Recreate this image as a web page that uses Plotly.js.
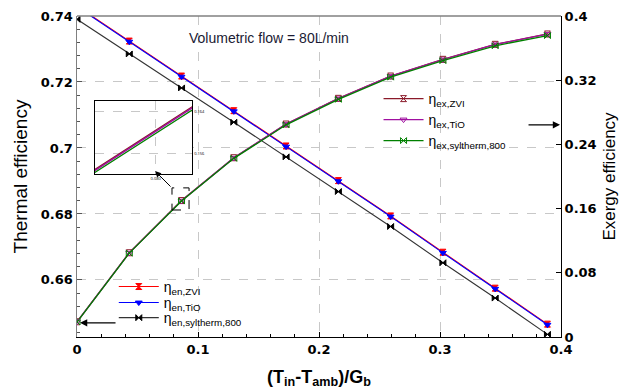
<!DOCTYPE html>
<html>
<head>
<meta charset="utf-8">
<script src="https://cdn.plot.ly/plotly-3.0.1.min.js"></script>
<style>html,body{margin:0;padding:0;background:#fff}#chart{width:619px;height:392px}</style>
</head>
<body>
<div id="chart"></div>
<script>
// ---- data ----
const xVals = [0, 0.0432, 0.0864, 0.1296, 0.1728, 0.216, 0.2592, 0.3024, 0.3456, 0.3888];

const enZVI = [0.7430, 0.7324, 0.7218, 0.7113, 0.7006, 0.6901, 0.6794, 0.6684, 0.6575, 0.6466];
const enTiO = [0.7428, 0.7322, 0.7216, 0.7111, 0.7004, 0.6899, 0.6792, 0.6682, 0.6573, 0.6464];
const enSyl = [0.7390, 0.7285, 0.7182, 0.7078, 0.6973, 0.6868, 0.6762, 0.6652, 0.6545, 0.6435];

const exZVI = [0.0190, 0.1050, 0.1700, 0.2234, 0.2654, 0.2974, 0.3252, 0.3460, 0.3647, 0.3776];
const exTiO = [0.0190, 0.1048, 0.1698, 0.2232, 0.2652, 0.2972, 0.3250, 0.3458, 0.3645, 0.3774];
const exSyl = [0.0187, 0.1045, 0.1694, 0.2226, 0.2644, 0.2962, 0.3238, 0.3444, 0.3629, 0.3756];

const enNames = ['η<sub>en,ZVI</sub>', 'η<sub>en,TiO</sub>', 'η<sub>en,syltherm,800</sub>'];
const exNames = ['η<sub>ex,ZVI</sub>', 'η<sub>ex,TiO</sub>', 'η<sub>ex,syltherm,800</sub>'];

const leftTicks = [0.66, 0.68, 0.70, 0.72, 0.74];
const leftTickText = ['0.66', '0.68', '0.7', '0.72', '0.74'];
const rightTicks = [0, 0.08, 0.16, 0.24, 0.32, 0.4];
const rightTickText = ['0', '0.08', '0.16', '0.24', '0.32', '0.4'];
const xTicks = [0, 0.1, 0.2, 0.3, 0.4];
const xTickText = ['0', '0.1', '0.2', '0.3', '0.4'];

// ---- styles ----
const enStyles = [
  {color: '#ff0000', symbol: 'hourglass', lc: '#ff0000'},
  {color: '#0000ff', symbol: 'triangle-down', lc: '#0000ff'},
  {color: '#000000', symbol: 'bowtie', lc: '#333333'}
];
const exStyles = [
  {color: '#8b1a2a', symbol: 'hourglass-open', lc: '#8b1a2a'},
  {color: '#a010a0', symbol: 'triangle-down-open', lc: '#a010a0'},
  {color: '#008000', symbol: 'bowtie-open', lc: '#008000'}
];

const enData = [enZVI, enTiO, enSyl];
const exData = [exZVI, exTiO, exSyl];

const traces = [];
exData.forEach((ys, i) => {
  traces.push({
    x: xVals, y: ys, type: 'scatter', mode: 'lines+markers', name: exNames[i],
    yaxis: 'y2', legend: 'legend' + (i + 4),
    line: {color: exStyles[i].lc, width: 1.3},
    marker: {symbol: exStyles[i].symbol, size: 6, color: exStyles[i].color, line: {color: exStyles[i].color, width: 1}}
  });
});
enData.forEach((ys, i) => {
  traces.push({
    x: xVals, y: ys, type: 'scatter', mode: 'lines+markers', name: enNames[i],
    legend: i === 0 ? 'legend' : 'legend' + (i + 1),
    line: {color: enStyles[i].lc, width: 1.1},
    marker: {symbol: enStyles[i].symbol, size: 6, color: enStyles[i].color, line: {color: enStyles[i].color, width: 1}}
  });
});
// inset (zoomed view of the exergy curves)
exData.forEach((ys, i) => {
  traces.push({
    x: xVals, y: ys, type: 'scatter', mode: 'lines', showlegend: false, hoverinfo: 'skip',
    xaxis: 'x3', yaxis: 'y3',
    line: {color: exStyles[i].lc, width: 1.3}
  });
});

const legFont = {family: 'Liberation Sans, Arial, sans-serif', size: 14, color: '#000'};
function leg(x, y) {
  return {x: x, y: y, xanchor: 'left', yanchor: 'middle', bgcolor: 'rgba(0,0,0,0)',
          borderwidth: 0, font: legFont, itemwidth: 40, tracegroupgap: 0};
}

const tickFont = {family: 'DejaVu Sans, sans-serif', size: 13, color: '#000', weight: 'bold'};

const layout = {
  width: 619, height: 392,
  margin: {l: 77, r: 58, t: 16, b: 55},
  paper_bgcolor: '#fff', plot_bgcolor: '#fff',
  showlegend: true,
  legend: leg(0.076, 0.1560),
  legend2: leg(0.076, 0.1060),
  legend3: leg(0.076, 0.0590),
  legend4: leg(0.623, 0.7414),
  legend5: leg(0.623, 0.6760),
  legend6: leg(0.623, 0.6106),
  xaxis: {
    range: [0, 0.4], tickvals: xTicks, ticktext: xTickText,
    showline: true, linecolor: '#000', linewidth: 1, mirror: false,
    ticks: 'inside', ticklen: 5, tickcolor: '#000',
    minor: {dtick: 0.02, ticks: 'inside', ticklen: 3, tickcolor: '#000', showgrid: false},
    showgrid: true, gridcolor: '#c8c8c8', griddash: 'dash', gridwidth: 1,
    zeroline: false, tickfont: tickFont,
    title: {text: '(T<sub>in</sub>-T<sub>amb</sub>)/G<sub>b</sub>', standoff: 14,
            font: {family: 'Liberation Sans, Arial, sans-serif', size: 18, color: '#000', weight: 'bold'}}
  },
  yaxis: {
    range: [0.6427, 0.74], tickvals: leftTicks, ticktext: leftTickText,
    showline: true, linecolor: '#808080', linewidth: 1.5,
    ticks: 'inside', ticklen: 5, tickcolor: '#555',
    minor: {dtick: 0.004, ticks: 'inside', ticklen: 3, tickcolor: '#555', showgrid: false},
    showgrid: true, gridcolor: '#c8c8c8', griddash: 'dash', gridwidth: 1,
    zeroline: false, tickfont: tickFont,
    title: {text: 'Thermal efficiency', standoff: 8,
            font: {family: 'Liberation Sans, Arial, sans-serif', size: 19, color: '#000'}}
  },
  yaxis2: {
    overlaying: 'y', side: 'right', range: [0, 0.4],
    tickvals: rightTicks, ticktext: rightTickText,
    showline: true, linecolor: '#000', linewidth: 1,
    ticks: 'inside', ticklen: 5, tickcolor: '#000',
    showgrid: false, zeroline: false, tickfont: tickFont,
    title: {text: 'Exergy efficiency', standoff: 10,
            font: {family: 'Liberation Sans, Arial, sans-serif', size: 17, color: '#000'}}
  },
  xaxis3: {
    domain: [0.037, 0.238], anchor: 'y3', range: [0.075, 0.083],
    tickvals: [0.08], ticktext: ['0.080'], tickfont: {size: 4, color: '#000'},
    showline: true, linecolor: '#000', linewidth: 1.2, mirror: true,
    showgrid: true, gridcolor: '#c8c8c8', griddash: 'dash', zeroline: false, ticks: ''
  },
  yaxis3: {
    domain: [0.508, 0.735], anchor: 'x3', range: [0.152, 0.166], side: 'right',
    tickvals: [0.156, 0.164], ticktext: ['0.156', '0.164'], tickfont: {size: 4, color: '#000'},
    showline: true, linecolor: '#000', linewidth: 1.2, mirror: true,
    showgrid: true, gridcolor: '#c8c8c8', griddash: 'dash', zeroline: false, ticks: ''
  },
  shapes: [
    {type: 'line', xref: 'paper', yref: 'paper', x0: 0, x1: 1, y0: 1, y1: 1,
     line: {color: '#808080', width: 1.5}},
    {type: 'rect', xref: 'x', yref: 'y', x0: 0.0785, x1: 0.0926, y0: 0.6812, y1: 0.6879,
     line: {color: '#000', width: 1, dash: 'dash'}}
  ],
  annotations: [
    {xref: 'paper', yref: 'paper', x: 0.227, y: 0.931, xanchor: 'left', yanchor: 'middle',
     text: 'Volumetric flow = 80L/min', showarrow: false,
     font: {family: 'Liberation Sans, Arial, sans-serif', size: 14, color: '#1a1a33'}},
    {xref: 'x', yref: 'y', x: 0.0025, y: 0.647, ax: 37, ay: 0, text: '', showarrow: true,
     arrowhead: 2, arrowsize: 1.2, arrowwidth: 1.2, arrowcolor: '#000'},
    {xref: 'x', yref: 'y', x: 0.3992, y: 0.707, ax: -33, ay: 0, text: '', showarrow: true,
     arrowhead: 2, arrowsize: 1.2, arrowwidth: 1.2, arrowcolor: '#000'},
    {xref: 'x', yref: 'y', x: 0.0645, y: 0.693, ax: 17, ay: 17, text: '', showarrow: true,
     arrowhead: 2, arrowsize: 1.2, arrowwidth: 1, arrowcolor: '#000'}
  ]
};

Plotly.newPlot('chart', traces, layout, {displayModeBar: false, staticPlot: true});
</script>
</body>
</html>
